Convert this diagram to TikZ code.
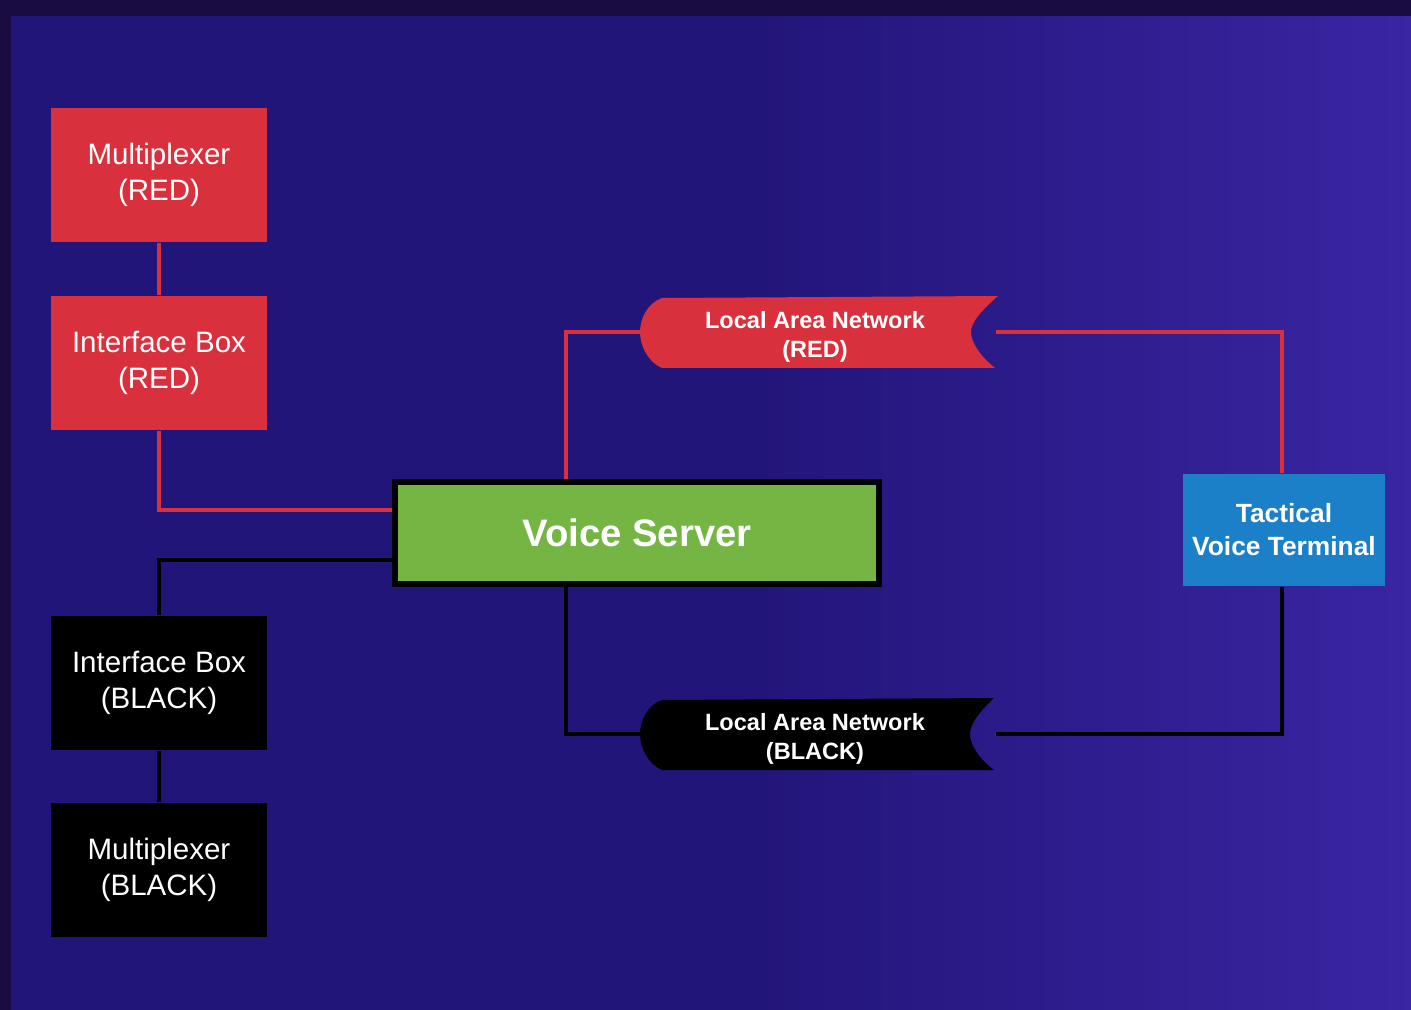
\documentclass[tikz,border=0pt]{standalone}
\usepackage{fontspec}
\setmainfont{Liberation Sans}
\usetikzlibrary{positioning}

\pgfdeclarelayer{back}
\pgfdeclarelayer{wires}
\pgfsetlayers{back,wires,main}

\definecolor{bgleft}{HTML}{22157A}
\definecolor{bgright}{HTML}{3A25A2}
\definecolor{bgtop}{HTML}{190C42}
\definecolor{boxred}{HTML}{D8303C}
\definecolor{boxgreen}{HTML}{74B544}
\definecolor{boxblue}{HTML}{1B80C8}

\tikzset{
  unitbox/.style={minimum width=4.32cm, minimum height=2.7cm, inner sep=0pt,
    text=white, align=center, font=\fontsize{16.8}{20.5}\selectfont},
  redunit/.style={unitbox, fill=boxred},
  blackunit/.style={unitbox, fill=black},
  lanbox/.style={minimum width=7.12cm, minimum height=1.44cm, inner sep=0pt},
  lantext/.style={text=white, align=center, inner sep=0pt, xshift=-0.06cm,
    yshift=-0.1cm, font=\bfseries\fontsize{13.4}{16.5}\selectfont},
  redwire/.style={draw=boxred, line width=2.3pt},
  blackwire/.style={draw=black, line width=2.3pt},
}

\begin{document}
\begin{tikzpicture}[x=0.02cm, y=-0.02cm]
% Background
\begin{pgfonlayer}{back}
\fill[bgleft] (0,0) rectangle (760,1010);
\shade[left color=bgleft, right color=bgright] (760,0) rectangle (1411,1010);
\fill[bgtop] (0,0) rectangle (1411,16);
\fill[bgtop] (0,0) rectangle (11,1010);
\end{pgfonlayer}
\useasboundingbox (0,0) rectangle (1411,1010);

% RED side
\node[redunit] (muxr) at (159,175) {Multiplexer\\(RED)};
\node[redunit] (ibr) at (159,363) {Interface Box\\(RED)};

% BLACK side
\node[blackunit] (ibb) at (159,683) {Interface Box\\(BLACK)};
\node[blackunit] (muxb) at (159,870) {Multiplexer\\(BLACK)};

% Voice server and terminal
\node[draw=black, line width=3pt, fill=boxgreen, minimum width=9.68cm,
  minimum height=2.04cm, text=white, font=\bfseries\fontsize{21.8}{26}\selectfont]
  (vs) at (637,533) {Voice Server};
\node[fill=boxblue, minimum width=4.04cm, minimum height=2.26cm, inner sep=0pt,
  text=white, align=center, font=\bfseries\fontsize{15}{18.7}\selectfont]
  (tvt) at (1284,530) {Tactical\\Voice Terminal};

% Local area networks (banner shapes)
\coordinate (lanrc) at (818,332);
\coordinate (lanbc) at (818,734);
\fill[boxred, shift={(lanrc)}] (-156,-34) -- (180,-36)
  .. controls (164,-22) and (153,-10) .. (153,0)
  .. controls (153,10) and (162,24) .. (177,36) -- (-156,36)
  .. controls (-170,30) and (-178,14) .. (-178,0)
  .. controls (-178,-14) and (-170,-29) .. (-156,-34) -- cycle;
\fill[black, shift={(lanbc)}] (-156,-34) -- (176,-36)
  .. controls (161,-22) and (152,-10) .. (152,0)
  .. controls (152,10) and (160,24) .. (176,36) -- (-156,36)
  .. controls (-170,30) and (-178,14) .. (-178,0)
  .. controls (-178,-14) and (-170,-29) .. (-156,-34) -- cycle;
\node[lanbox, label={[lantext]center:Local Area Network\\(RED)}]
  (lanr) at (lanrc) {};
\node[lanbox, label={[lantext]center:Local Area Network\\(BLACK)}]
  (lanb) at (lanbc) {};

% Wires
\begin{pgfonlayer}{wires}
\draw[redwire] (muxr) -- (ibr);
\draw[redwire] (ibr.south) |- ([yshift=0.46cm]vs.west);
\draw[redwire] ([xshift=-1.42cm]vs.north) |- (lanr.west);
\draw[redwire] (lanr.east) -| ([xshift=-0.04cm]tvt.north);
\draw[blackwire] ([yshift=-0.54cm]vs.west) -| (ibb.north);
\draw[blackwire] (ibb) -- (muxb);
\draw[blackwire] ([xshift=-1.42cm]vs.south) |- (lanb.west);
\draw[blackwire] (lanb.east) -| ([xshift=-0.04cm]tvt.south);
\end{pgfonlayer}
\end{tikzpicture}
\end{document}
